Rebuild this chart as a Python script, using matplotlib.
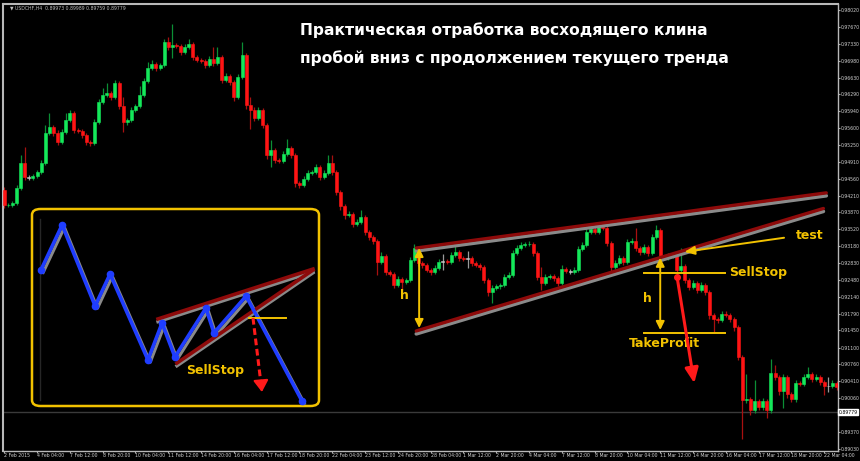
import numpy as np
import matplotlib.pyplot as plt
from matplotlib.patches import FancyBboxPatch

plt.rcParams['font.family'] = ['DejaVu Sans']

# USDCHF H4 bars, close prices (open = previous close)
first_open = 0.9433
closes = [
    0.9402, 0.9403, 0.9406, 0.9437, 0.9488, 0.9460, 0.9458, 0.9462, 0.9470, 0.9488,
    0.9550, 0.9562, 0.9550, 0.9531, 0.9552, 0.9577, 0.9591, 0.9556, 0.9554, 0.9546,
    0.9531, 0.9529, 0.9572, 0.9613, 0.9628, 0.9632, 0.9624, 0.9652, 0.9605, 0.9572,
    0.9577, 0.9597, 0.9605, 0.9628, 0.9656, 0.9683, 0.9691, 0.9683, 0.9689, 0.9736,
    0.9726, 0.9730, 0.9728, 0.9716, 0.9726, 0.9732, 0.9706, 0.9700, 0.9697, 0.9689,
    0.9702, 0.9693, 0.9706, 0.9659, 0.9667, 0.9654, 0.9624, 0.9665, 0.9710, 0.9607,
    0.9597, 0.9581, 0.9597, 0.9566, 0.9505, 0.9515, 0.9495, 0.9492, 0.9507, 0.9519,
    0.9505, 0.9447, 0.9443, 0.9456, 0.9468, 0.9470, 0.9480, 0.9460, 0.9468, 0.9488,
    0.9470, 0.9429, 0.9400, 0.9382, 0.9384, 0.9363, 0.9367, 0.9378, 0.9347, 0.9337,
    0.9328, 0.9285, 0.9298, 0.9265, 0.9261, 0.9238, 0.9251, 0.9244, 0.9248, 0.9289,
    0.9314, 0.9283, 0.9279, 0.9269, 0.9265, 0.9273, 0.9285, 0.9287, 0.9285, 0.9300,
    0.9306, 0.9294, 0.9292, 0.9294, 0.9283, 0.9279, 0.9275, 0.9248, 0.9224, 0.9232,
    0.9236, 0.9238, 0.9255, 0.9259, 0.9304, 0.9314, 0.9320, 0.9322, 0.9323, 0.9304,
    0.9255, 0.9242, 0.9255, 0.9257, 0.9253, 0.9242, 0.9271, 0.9267, 0.9265, 0.9269,
    0.9312, 0.9320, 0.9347, 0.9353, 0.9347, 0.9361, 0.9355, 0.9324, 0.9275, 0.9283,
    0.9294, 0.9285, 0.9326, 0.9328, 0.9314, 0.9306, 0.9316, 0.9304, 0.9337, 0.9351,
    0.9296, 0.9294, 0.9298, 0.9300, 0.9269, 0.9277, 0.9248, 0.9234, 0.9242, 0.9228,
    0.9238, 0.9224, 0.9177, 0.9169, 0.9166, 0.9179, 0.9177, 0.9169, 0.9152, 0.9091,
    0.9002, 0.9005, 0.8982, 0.9000, 0.8988, 0.9000, 0.8982, 0.9058, 0.9050, 0.9021,
    0.9050, 0.9015, 0.9005, 0.9037, 0.9035, 0.9050, 0.9056, 0.9046, 0.9050, 0.9039,
    0.9031, 0.9031, 0.9037, 0.9029,
]
# shadow lengths in pips above / below the body
upper_wick_pips = [
    6, 4, 4, 6, 16, 32, 4, 4, 4, 6,
    16, 28, 4, 6, 6, 14, 6, 4, 4, 4,
    4, 4, 6, 6, 14, 20, 4, 6, 4, 18,
    4, 6, 4, 18, 6, 12, 8, 4, 4, 6,
    10, 42, 4, 4, 6, 10, 4, 4, 4, 4,
    6, 24, 20, 4, 6, 4, 4, 6, 26, 4,
    16, 6, 6, 4, 4, 20, 4, 4, 6, 18,
    4, 4, 4, 6, 6, 4, 6, 4, 6, 16,
    16, 4, 4, 4, 6, 4, 6, 14, 4, 4,
    4, 4, 8, 4, 4, 4, 6, 4, 4, 6,
    8, 4, 4, 4, 4, 6, 6, 14, 4, 6,
    14, 4, 4, 14, 4, 4, 4, 4, 4, 6,
    4, 4, 6, 6, 6, 6, 6, 4, 6, 4,
    4, 20, 6, 4, 4, 4, 8, 4, 4, 6,
    6, 6, 14, 6, 4, 6, 4, 4, 4, 6,
    6, 4, 6, 6, 28, 4, 6, 4, 6, 10,
    4, 4, 6, 6, 4, 36, 4, 4, 6, 4,
    6, 4, 4, 4, 4, 6, 6, 4, 4, 4,
    4, 50, 4, 44, 4, 6, 4, 28, 16, 4,
    6, 4, 4, 6, 4, 6, 14, 4, 6, 4,
    4, 18, 6, 4,
]
lower_wick_pips = [
    6, 4, 4, 4, 4, 6, 4, 4, 4, 4,
    4, 4, 6, 6, 4, 4, 4, 6, 4, 6,
    6, 6, 4, 4, 4, 4, 6, 4, 6, 20,
    6, 4, 4, 4, 4, 4, 4, 6, 4, 4,
    6, 22, 4, 6, 4, 4, 6, 4, 4, 6,
    4, 6, 4, 6, 4, 6, 8, 4, 4, 8,
    40, 6, 4, 6, 8, 26, 6, 4, 4, 4,
    6, 8, 6, 4, 4, 4, 4, 6, 4, 4,
    6, 6, 8, 8, 4, 6, 4, 4, 6, 6,
    6, 26, 4, 6, 4, 6, 4, 16, 4, 4,
    4, 6, 6, 4, 6, 4, 4, 16, 4, 4,
    4, 6, 4, 18, 6, 4, 6, 6, 8, 22,
    4, 6, 4, 4, 4, 4, 4, 4, 4, 6,
    6, 14, 4, 4, 6, 6, 4, 4, 4, 4,
    4, 4, 4, 4, 4, 4, 4, 6, 8, 4,
    4, 6, 4, 4, 6, 6, 4, 6, 4, 4,
    6, 4, 4, 4, 8, 4, 6, 6, 4, 6,
    4, 6, 8, 28, 6, 4, 4, 6, 8, 6,
    80, 6, 10, 6, 6, 6, 16, 6, 6, 8,
    34, 8, 6, 6, 4, 4, 4, 6, 4, 6,
    18, 12, 4, 6,
]
doji_bars = [6, 107, 113, 138, 201]

price_ticks = [0.98020, 0.97670, 0.97330, 0.96980, 0.96630, 0.96290, 0.95940,
               0.95600, 0.95250, 0.94910, 0.94560, 0.94210, 0.93870, 0.93520,
               0.93180, 0.92830, 0.92480, 0.92140, 0.91790, 0.91450, 0.91100,
               0.90760, 0.90410, 0.90060, 0.89370, 0.89030]
time_labels = ["2 Feb 2015", "4 Feb 04:00", "7 Feb 12:00", "8 Feb 20:00",
               "10 Feb 04:00", "11 Feb 12:00", "14 Feb 20:00", "16 Feb 04:00",
               "17 Feb 12:00", "18 Feb 20:00", "22 Feb 04:00", "23 Feb 12:00",
               "24 Feb 20:00", "28 Feb 04:00", "1 Mar 12:00", "2 Mar 20:00",
               "4 Mar 04:00", "7 Mar 12:00", "8 Mar 20:00", "10 Mar 04:00",
               "11 Mar 12:00", "14 Mar 20:00", "16 Mar 04:00", "17 Mar 12:00",
               "18 Mar 20:00", "22 Mar 04:00"]
bars_per_label = 8
last_price = 0.89779
header = "\u25bc USDCHF,H4  0.89973 0.89989 0.89759 0.89779"

# rising wedge: (bar, price) at both ends
wedge_top = [(100.5, 0.9314), (200.5, 0.9427)]
wedge_bottom = [(100.5, 0.9144), (199.8, 0.9395)]
# trade plan levels
h_left = (101.2, 0.9314, 0.9150)
h_right = (160.0, 0.9294, 0.9146)
sell_stop = 0.9263
take_profit = 0.9140
level_bars = (156.1, 175.9)
test_from = (190.2, 0.9335)
test_to = (165.9, 0.9306)
drop_from = (164.1, 0.9255)
drop_to = (168.3, 0.9037)

# schematic of the pattern (inset units 0..100)
scheme_x = [3.1, 10.5, 22.0, 27.2, 40.4, 45.3, 49.8, 60.6, 63.4, 74.6, 94.1]
scheme_y = [69.0, 91.9, 50.8, 67.0, 23.4, 42.1, 24.9, 49.7, 37.1, 55.8, 2.5]
scheme_top = ([43.9, 97.9], [44.2, 69.5])
scheme_bottom = ([50.5, 97.9], [21.8, 69.0])
scheme_stop = ([75.6, 88.5], [44.7, 44.7])
scheme_drop = ((77.0, 44.7), (80.1, 7.1))

YELLOW = '#f2c200'
BULL, BEAR = '#14e85a', '#ff1414'
BULL_WICK, BEAR_WICK = '#0b8f35', '#a81010'
TICK_SIZE = 3.3

fig = plt.figure(figsize=(8.6, 4.61), dpi=100, facecolor='black')
ax = fig.add_axes([3 / 860, 10 / 461, 835 / 860, 447 / 461], facecolor='black')

opens = [first_open] + closes[:-1]
for i, (o, c) in enumerate(zip(opens, closes)):
    hi = max(o, c) + upper_wick_pips[i] * 0.0001
    lo = min(o, c) - lower_wick_pips[i] * 0.0001
    if i in doji_bars:
        body, wick = '#c8c8c8', '#9a9a9a'
    elif c >= o:
        body, wick = BULL, BULL_WICK
    else:
        body, wick = BEAR, BEAR_WICK
    ax.vlines(i, lo, hi, color=wick, lw=0.9, zorder=2)
    ax.bar(i, c - o, bottom=o, width=0.72, color=body, edgecolor=body,
           lw=0.4, zorder=3)

ax.axhline(last_price, color='#3a3a3a', lw=1, zorder=1)

# wedge lines with grey shadow
for (x0, y0), (x1, y1) in (wedge_top, wedge_bottom):
    ax.plot([x0, x1], [y0 - 0.0006, y1 - 0.0006], color='#8a8a8a', lw=2.6,
            solid_capstyle='round', zorder=4)
    ax.plot([x0, x1], [y0, y1], color='#8e0a0a', lw=2.4,
            solid_capstyle='round', zorder=5)

arrow_kw = dict(arrowstyle='<|-|>,head_width=0.25,head_length=0.5', color=YELLOW,
                lw=1.4, shrinkA=0, shrinkB=0)
for bx, ytop, ybot in (h_left, h_right):
    ax.annotate('', xy=(bx, ytop), xytext=(bx, ybot), arrowprops=arrow_kw, zorder=6)
ax.text(h_left[0] - 3.6, 0.9216, 'h', color=YELLOW, fontsize=9, fontweight='bold',
        ha='center', va='center')
ax.text(h_right[0] - 3.0, 0.9210, 'h', color=YELLOW, fontsize=9, fontweight='bold',
        ha='center', va='center')

for lvl in (sell_stop, take_profit):
    ax.plot(level_bars, [lvl, lvl], color=YELLOW, lw=1.4, zorder=6)
ax.text(level_bars[1] + 1.0, sell_stop, 'SellStop', color=YELLOW, fontsize=9,
        fontweight='bold', ha='left', va='center')
ax.text(level_bars[0] - 3.8, take_profit - 0.0022, 'TakeProfit', color=YELLOW,
        fontsize=9, fontweight='bold', ha='left', va='center')

ax.annotate('', xy=test_to, xytext=test_from,
            arrowprops=dict(arrowstyle='-|>,head_width=0.25,head_length=0.6',
                            color=YELLOW, lw=1.4, shrinkA=0, shrinkB=0), zorder=6)
ax.text(test_from[0] + 3.0, test_from[1] + 0.0004, 'test', color=YELLOW,
        fontsize=9, fontweight='bold', ha='left', va='center')

ax.plot(*drop_from, 'o', color='#ff1a1a', ms=4, zorder=7)
ax.annotate('', xy=drop_to, xytext=drop_from,
            arrowprops=dict(arrowstyle='-|>,head_width=0.4,head_length=0.9',
                            color='#ff1a1a', lw=2.2, shrinkA=0, shrinkB=0), zorder=7)

ax.set_xlim(-0.3, 203.36)
ax.set_ylim(0.8898, 0.9814)

ax.yaxis.tick_right()
ax.set_yticks(price_ticks)
ax.set_yticklabels([f'{p:.5f}' for p in price_ticks])
ax.set_xticks(np.arange(len(time_labels)) * bars_per_label)
ax.set_xticklabels(time_labels)
for lab in ax.get_xticklabels():
    lab.set_horizontalalignment('left')
ax.tick_params(axis='both', colors='#b0b0b0', labelcolor='#d0d0d0',
               labelsize=TICK_SIZE, length=1.2, width=0.8, pad=0.5)
for side, sp in ax.spines.items():
    sp.set_color('#b8b8b8')
    sp.set_linewidth(1.5 if side in ('top', 'left') else 1.0)

ax.text(1.001, last_price, f'{last_price:.5f}', transform=ax.get_yaxis_transform(),
        fontsize=TICK_SIZE, color='black', ha='left', va='center',
        bbox=dict(boxstyle='square,pad=0.1', fc='white', ec='white'))

fig.text(10 / 860, 1 - 8 / 461, header, color='#c0c0c0', fontsize=TICK_SIZE,
         ha='left', va='center')

fig.text(300 / 860, 1 - 30 / 461, 'Практическая отработка восходящего клина',
         color='white', fontsize=11.2, fontweight='bold', ha='left', va='center')
fig.text(300 / 860, 1 - 58 / 461, 'пробой вниз с продолжением текущего тренда',
         color='white', fontsize=11.2, fontweight='bold', ha='left', va='center')

# inset with the pattern scheme
ins = fig.add_axes([32 / 860, 55 / 461, 287 / 860, 197 / 461], facecolor='black')
ins.set_xlim(0, 100)
ins.set_ylim(0, 100)
ins.axis('off')
ins.add_patch(FancyBboxPatch((0, 0), 100, 100,
                             boxstyle='round,pad=0,rounding_size=3',
                             fc='black', ec=YELLOW, lw=1.8, zorder=0,
                             clip_on=False))
ins.plot([2.8, 2.8], [3, 95], color='#262626', lw=1, zorder=1)
ins.plot([x + 0.8 for x in scheme_x], [y - 1.2 for y in scheme_y],
         color='#8a8a8a', lw=2.2, zorder=2)
for xs, ys in (scheme_top, scheme_bottom):
    ins.plot(xs, [y - 1.4 for y in ys], color='#8a8a8a', lw=2.4, zorder=2)
    ins.plot(xs, ys, color='#8e0a0a', lw=2.6, zorder=3)
ins.plot(scheme_x, scheme_y, color='#1f3dff', lw=2.6, marker='o', ms=4.5, zorder=4)
ins.plot(*scheme_stop, color=YELLOW, lw=1.4, zorder=5)
(sx0, sy0), (sx1, sy1) = scheme_drop
ins.plot([sx0, sx1 - 0.3], [sy0, sy1 + 4], color='#ff1a1a', lw=2.2,
         ls=(0, (2.2, 1.2)), zorder=5)
ins.annotate('', xy=(sx1, sy1), xytext=(sx1 - 0.3, sy1 + 5),
             arrowprops=dict(arrowstyle='-|>,head_width=0.45,head_length=0.7',
                             color='#ff1a1a', lw=1.5, shrinkA=0, shrinkB=0))
ins.text(63.8, 17.8, 'SellStop', color=YELLOW, fontsize=9, fontweight='bold',
         ha='center', va='center', zorder=6)

fig.savefig('out.png', dpi=100, facecolor='black')
